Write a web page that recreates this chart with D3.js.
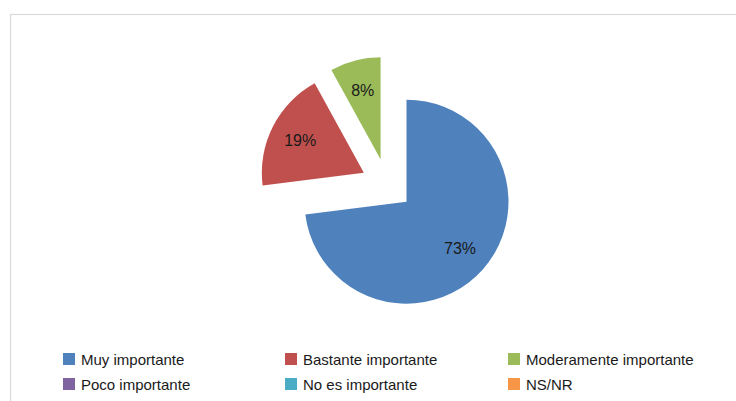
<!DOCTYPE html>
<html>
<head>
<meta charset="utf-8">
<script src="https://cdn.jsdelivr.net/npm/d3@7"></script>
<style>
  html, body { margin: 0; padding: 0; background: #fff; }
  svg { display: block; }
</style>
</head>
<body>
<svg id="chart" width="736" height="401"></svg>
<script>
// ---- data ----
const categories = ["Muy importante", "Bastante importante", "Moderamente importante",
                    "Poco importante", "No es importante", "NS/NR"];
const values = [73, 19, 8, 0, 0, 0];
const colors = ["#4F81BD", "#C0504D", "#9BBB59", "#8064A2", "#4BACC6", "#F79646"];

// ---- layout / style ----
const W = 736, H = 401;
const cx = 387, cy = 184.5, R = 102, explode = 26;
const font = "'Liberation Sans', Arial, sans-serif";

const svg = d3.select("#chart");

// chart area border
svg.append("rect")
  .attr("x", 10.5).attr("y", 14.5)
  .attr("width", W).attr("height", H)
  .attr("fill", "#fff")
  .attr("stroke", "#d9d9d9").attr("stroke-width", 1.2);

const data = categories.map((c, i) => ({ name: c, value: values[i], color: colors[i] }));

const pie = d3.pie().sort(null).value(d => d.value).startAngle(0).endAngle(2 * Math.PI);
const arcs = pie(data).filter(d => d.value > 0);

const arc = d3.arc().innerRadius(0).outerRadius(R);
const labelArc = d3.arc().innerRadius(R * 0.7).outerRadius(R * 0.7);

const g = svg.append("g").attr("transform", `translate(${cx},${cy})`);

const slice = g.selectAll("g.slice").data(arcs).join("g")
  .attr("class", "slice")
  .attr("transform", d => {
    const mid = (d.startAngle + d.endAngle) / 2;
    return `translate(${explode * Math.sin(mid)},${-explode * Math.cos(mid)})`;
  });

slice.append("path")
  .attr("d", arc)
  .attr("fill", d => d.data.color);

slice.append("text")
  .attr("transform", d => `translate(${labelArc.centroid(d)})`)
  .attr("text-anchor", "middle")
  .attr("dominant-baseline", "central")
  .attr("font-family", font)
  .attr("font-size", 16)
  .attr("fill", "#1a1a1a")
  .text(d => d.data.value + "%");

// ---- legend ----
const colX = [63, 285, 508];
const rowY = [353, 378];
const legend = svg.append("g");
const item = legend.selectAll("g.item").data(data).join("g")
  .attr("class", "item")
  .attr("transform", (d, i) => `translate(${colX[i % 3]},${rowY[Math.floor(i / 3)]})`);

item.append("rect")
  .attr("width", 12).attr("height", 12)
  .attr("fill", d => d.color);

item.append("text")
  .attr("x", 18).attr("y", 11.5)
  .attr("font-family", font)
  .attr("font-size", 15)
  .attr("fill", "#1a1a1a")
  .text(d => d.name);
</script>
</body>
</html>
